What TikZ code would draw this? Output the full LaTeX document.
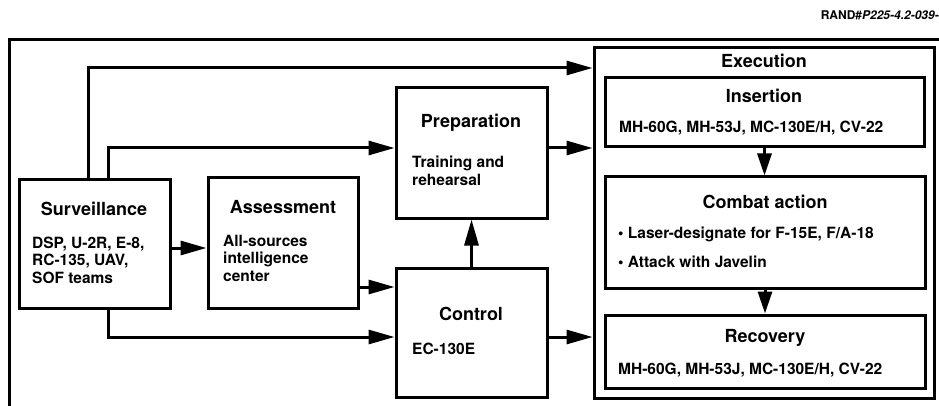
\documentclass[tikz,border=0pt]{standalone}
\usepackage{fontspec}
\setmainfont{TeX Gyre Heros}
\usetikzlibrary{arrows.meta,positioning}
\newcommand\mylines[1]{\begin{tabular}[t]{@{}l@{}}#1\end{tabular}}
\tikzset{
  box/.style={draw,line width=3pt,inner sep=0pt,minimum width=#1},
  ttl/.style={anchor=base,inner sep=0pt,font=\bfseries\fontsize{18}{20}\selectfont},
  bod/.style={anchor=base west,inner sep=0pt,font=\bfseries\fontsize{15.5}{17.5}\selectfont},
  arr/.style={line width=3pt,-{Triangle[length=26pt,width=14pt]}},
  arrs/.style={line width=3pt,-{Triangle[length=22pt,width=14pt]}},
}
\begin{document}
\begin{tikzpicture}[x=1pt,y=-1pt]
\useasboundingbox (0,0) rectangle (939,406);
% frame
\draw[line width=3pt] (9,406) -- (9,40) -- (939,40);
\node[anchor=base east,inner sep=0pt,font=\bfseries\fontsize{12}{14}\selectfont] (rand) at (939,20) {RAND\#\textit{P225-4.2-039-}};
% boxes
\node[box=151pt,minimum height=128pt] (surv) at (94.5,244) {};
\node[box=150pt,minimum height=130pt] (assess) at (283,243) {};
\node[box=151pt,minimum height=130pt] (prep) at (471.5,153) {};
\node[box=151pt,minimum height=129pt] (ctrl) at (471.5,332.5) {};
\node[box=340pt,minimum height=350pt] (exec) at (764,223) {};
\node[box=319pt,minimum height=69pt] (ins) at (764.5,112.5) {};
\node[box=320pt,minimum height=111pt] (combat) at (765,232.5) {};
\node[box=320pt,minimum height=73pt] (recov) at (765,351.5) {};
% texts
\node[ttl] (survt) at (94,215) {Surveillance};
\node[bod] (survb) at (32,248) {\mylines{DSP, U-2R, E-8,\\RC-135, UAV,\\SOF teams}};
\node[ttl] (assesst) at (283,213) {Assessment};
\node[bod] (assessb) at (223,246) {\mylines{All-sources\\intelligence\\center}};
\node[ttl] (prept) at (471,128) {Preparation};
\node[bod] (prepb) at (412,168) {\mylines{Training and\\rehearsal}};
\node[ttl] (ctrlt) at (471,320) {Control};
\node[bod] (ctrlb) at (412,354) {EC-130E};
\node[ttl] (exect) at (764,68) {Execution};
\node[ttl] (inst) at (764,103) {Insertion};
\node[bod] (insb) at (619,133) {MH-60G, MH-53J, MC-130E/H, CV-22};
\node[ttl] (combatt) at (765,208) {Combat action};
\node[bod] (combatb1) at (618,238) {\textbullet\ Laser-designate for F-15E, F/A-18};
\node[bod] (combatb2) at (618,267) {\textbullet\ Attack with Javelin};
\node[ttl] (recovt) at (765,342) {Recovery};
\node[bod] (recovb) at (618,374) {MH-60G, MH-53J, MC-130E/H, CV-22};
% connectors
\draw[arr] ([xshift=-6.5pt]surv.north) |- ([yshift=155pt]exec.west);
\draw[arr] ([xshift=13.5pt]surv.north) |- ([yshift=5pt]prep.west);
\draw[arr] ([yshift=5pt]prep.east) -- ([yshift=5pt]prep.east -| exec.west);
\draw[arr] ([yshift=-4pt]surv.east) -- ([yshift=-4pt]surv.east -| assess.west);
\draw[arr] ([yshift=45.5pt]ctrl.west -| assess.east) -- ([yshift=45.5pt]ctrl.west);
\draw[arr] ([xshift=13.5pt]surv.south) |- ([yshift=-4.5pt]ctrl.west);
\draw[arr] (ctrl.north) -- (prep.south);
\draw[arr] ([yshift=-4.5pt]ctrl.east) -- ([yshift=-4.5pt]ctrl.east -| exec.west);
\draw[arrs] (ins.south) -- (ins.south |- combat.north);
\draw[arrs] (combat.south) -- (combat.south |- recov.north);
\end{tikzpicture}
\end{document}
